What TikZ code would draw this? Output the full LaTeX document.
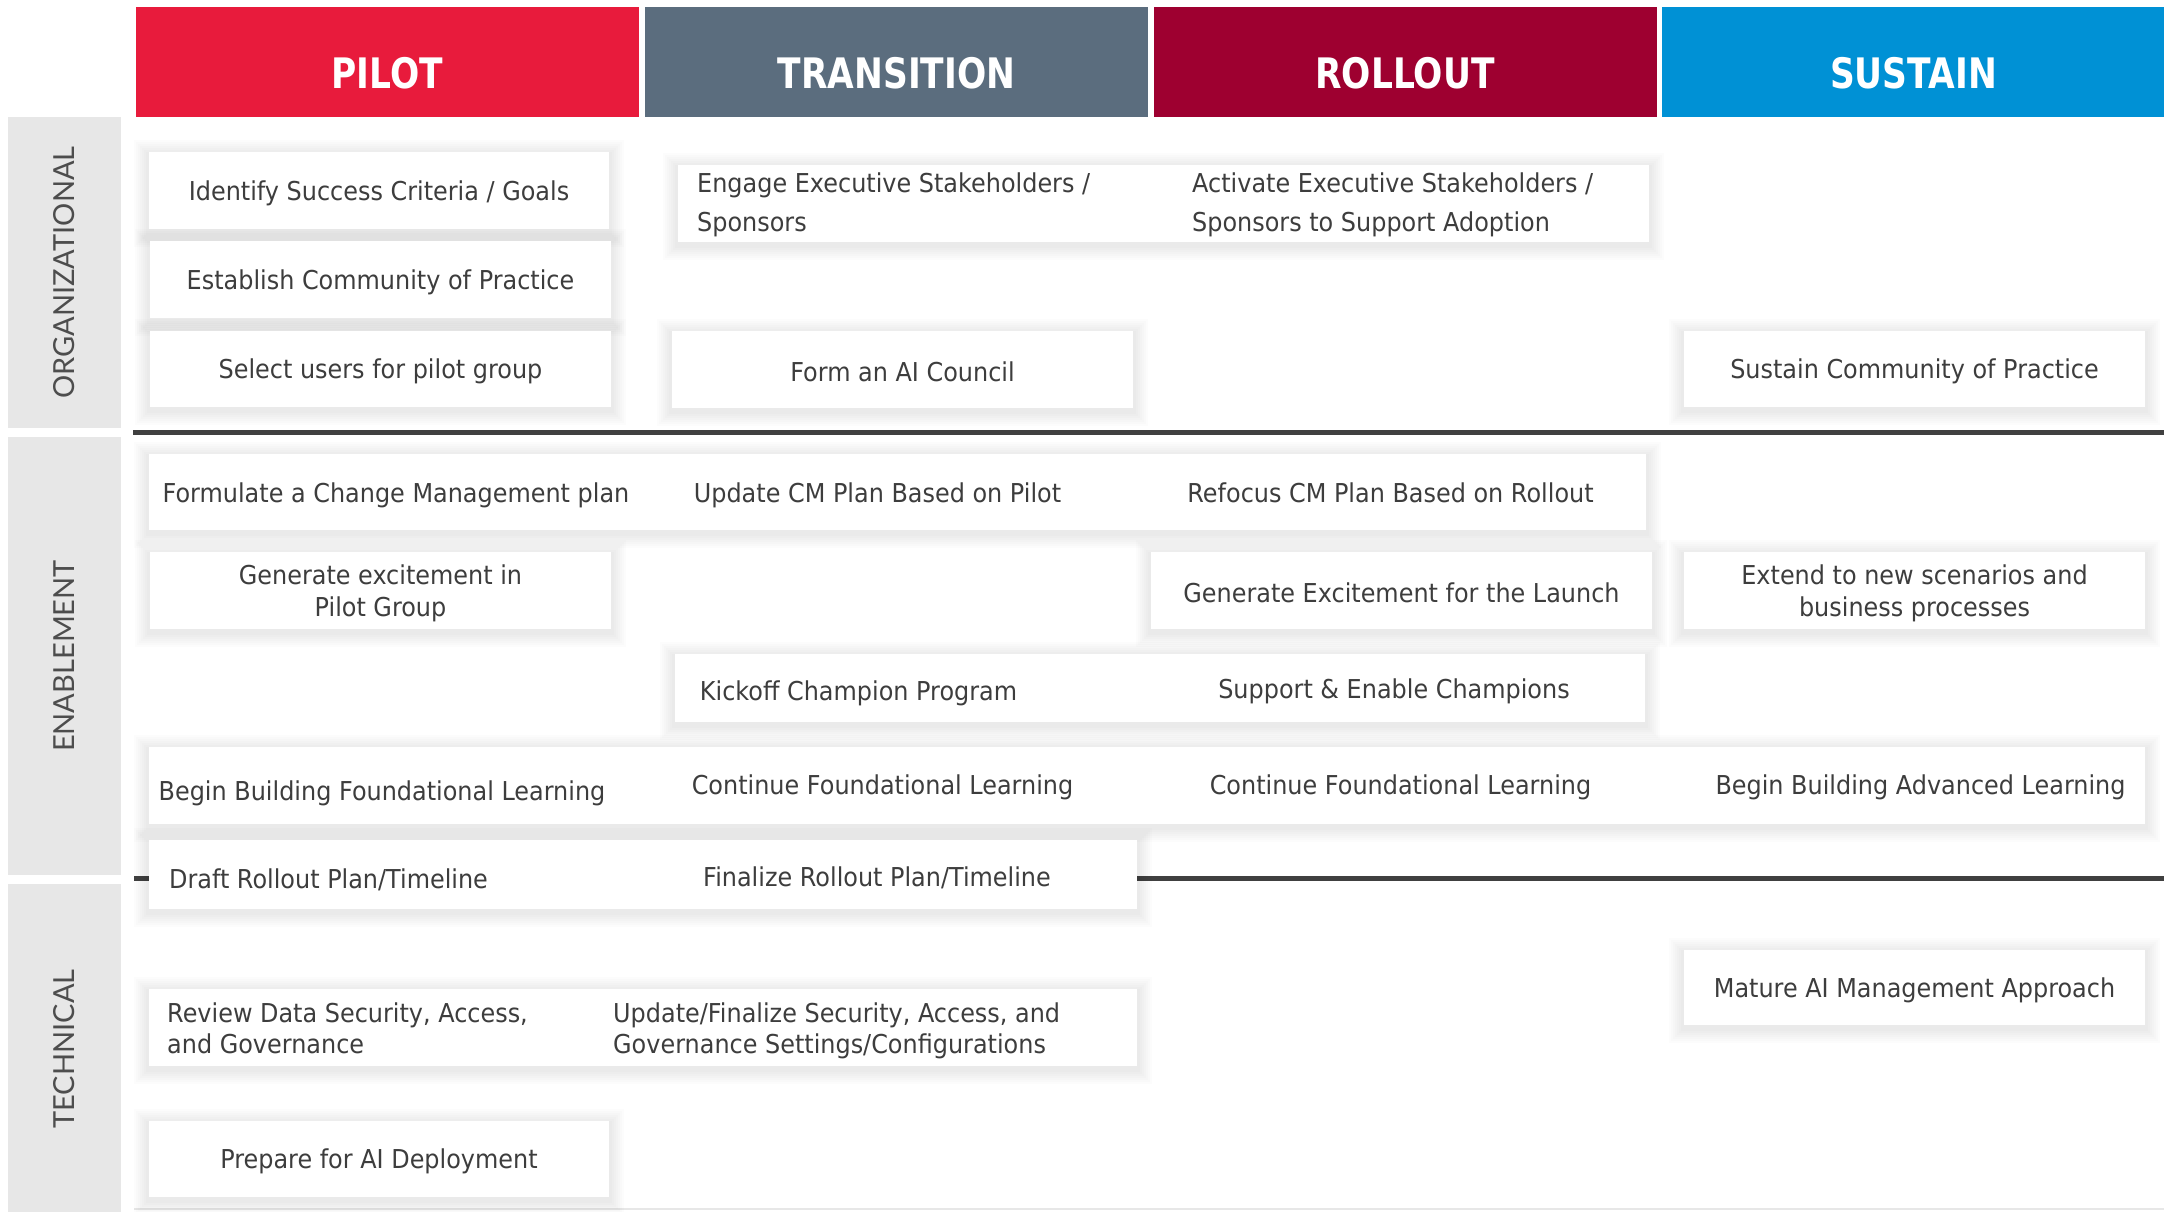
\documentclass[tikz,border=0pt]{standalone}
\usepackage{fontspec}
\usepackage{xcolor}
\usepackage{tikz}
\usetikzlibrary{positioning}

\newfontfamily\bodyfont[FakeStretch=0.92]{DejaVu Sans}
\newfontfamily\phasefont[FakeStretch=0.82]{DejaVu Sans}
\newfontfamily\lanefont{Lato}

\definecolor{pilotred}{HTML}{E81B3C}
\definecolor{transgrey}{HTML}{5B6D7E}
\definecolor{rolloutred}{HTML}{9E0030}
\definecolor{sustainblue}{HTML}{0091D5}
\definecolor{lanegrey}{HTML}{E7E7E7}
\definecolor{lanetext}{HTML}{4D4D4D}
\definecolor{rulegrey}{HTML}{404040}
\definecolor{ink}{HTML}{3D3D3D}

\begin{document}
\begin{tikzpicture}[x=1pt, y=-1pt,
	phase/.style={fill=#1, text=white, minimum width=503, minimum height=110, inner sep=0pt,
		text height=52pt, text depth=0pt, font=\phasefont\bfseries\fontsize{42}{42}\selectfont},
	lane/.style={fill=lanegrey, rotate=90, minimum height=113, inner sep=0pt, text=lanetext,
		font=\lanefont\fontsize{29}{29}\selectfont},
	halo/.style={preaction={draw=black, draw opacity=0.013, line width=#1, line join=miter,
		transform canvas={yshift=-3pt}}},
	task/.style={halo=30pt, halo=26pt, halo=22pt, halo=18pt, halo=14pt, halo=10pt, halo=6pt,
		fill=white, inner sep=0pt},
	txt/.style={text=ink, inner sep=0pt, align=center, yshift=-2.5pt,
		font=\bodyfont\fontsize{26}{32}\selectfont},
	rule/.style={draw=rulegrey, line width=5pt}
	]
	\fill[white] (0,0) rectangle (2164,1211);
	\useasboundingbox (0,0) rectangle (2164,1211);

	% phases
	\node[phase=pilotred] (pilot) at (387,62) {PILOT};
	\node[phase=transgrey] (transition) at (896.5,62) {TRANSITION};
	\node[phase=rolloutred] (rollout) at (1405,62) {ROLLOUT};
	\node[phase=sustainblue] (sustain) at (1913.5,62) {SUSTAIN};

	% lanes
	\node[lane, minimum width=311] (org) at (64.5,272.5) {ORGANIZATIONAL};
	\node[lane, minimum width=438] (enab) at (64.5,656) {ENABLEMENT};
	\node[lane, minimum width=330] (tech) at (64.5,1049) {TECHNICAL};

	% lane separators
	\coordinate (sepA) at (133,432);
	\coordinate (sepB) at (134,878);
	\draw[rule] (sepA) -- (sepA -| sustain.east);
	\draw[rule] (sepB) -- (sepB -| sustain.east);
	\draw[draw=lanegrey, line width=2pt] (134,1209) -- (2164,1209);

	% organizational
	\node[task, minimum width=460, minimum height=77] (goals) at (379,190.5) {};
	\node[txt] (goalsT) at (goals) {Identify Success Criteria / Goals};
	\node[task, minimum width=461, minimum height=77] (cop) at (380.5,279.5) {};
	\node[txt] (copT) at (cop) {Establish Community of Practice};
	\node[task, minimum width=461, minimum height=76] (users) at (380.5,369) {};
	\node[txt] (usersT) at (users) {Select users for pilot group};
	\node[task, minimum width=971, minimum height=77] (sponsors) at (1163.5,203.5) {};
	\node[txt, anchor=west, align=left, yshift=1.5pt, font=\bodyfont\fontsize{26}{39}\selectfont] (engage) at (697,203.5)
		{Engage Executive Stakeholders /\\Sponsors};
	\node[txt, anchor=west, align=left, yshift=1.5pt, font=\bodyfont\fontsize{26}{39}\selectfont] (activate) at (1192,203.5)
		{Activate Executive Stakeholders /\\Sponsors to Support Adoption};
	\node[task, minimum width=461, minimum height=77] (council) at (902.5,369.5) {};
	\node[txt] (councilT) at (council) {Form an AI Council};
	\node[task, minimum width=461, minimum height=76] (sustcop) at (1914.5,369) {};
	\node[txt] (sustcopT) at (sustcop) {Sustain Community of Practice};

	% enablement
	\node[task, minimum width=1497, minimum height=76] (cm) at (897.5,492) {};
	\node[txt] (cmA) at (396,493) {Formulate a Change Management plan};
	\node[txt] (cmB) at (877.5,493) {Update CM Plan Based on Pilot};
	\node[txt] (cmC) at (1390.5,490.5) {Refocus CM Plan Based on Rollout};
	\node[task, minimum width=461, minimum height=77] (excite) at (380.5,590.5) {};
	\node[txt] (exciteT) at (excite) {Generate excitement in\\Pilot Group};
	\node[task, minimum width=501, minimum height=77] (launch) at (1401.5,590.5) {};
	\node[txt] (launchT) at (launch) {Generate Excitement for the Launch};
	\node[task, minimum width=461, minimum height=77] (extend) at (1914.5,590.5) {};
	\node[txt] (extendT) at (extend) {Extend to new scenarios and\\business processes};
	\node[task, minimum width=970, minimum height=68] (champ) at (1160,688) {};
	\node[txt] (champA) at (858.5,691) {Kickoff Champion Program};
	\node[txt] (champB) at (1394,689) {Support \& Enable Champions};
	\node[task, minimum width=1996, minimum height=77] (learn) at (1147,785.5) {};
	\node[txt] (learnA) at (382,791) {Begin Building Foundational Learning};
	\node[txt] (learnB) at (882.5,785) {Continue Foundational Learning};
	\node[txt] (learnC) at (1400.5,785) {Continue Foundational Learning};
	\node[txt] (learnD) at (1920.5,785) {Begin Building Advanced Learning};
	\node[task, minimum width=988, minimum height=69] (plan) at (643,874.5) {};
	\node[txt] (planA) at (328.5,877) {Draft Rollout Plan/Timeline};
	\node[txt] (planB) at (877,875) {Finalize Rollout Plan/Timeline};

	% technical
	\node[task, minimum width=988, minimum height=77] (secur) at (643,1027.5) {};
	\node[txt, anchor=west, align=left, yshift=2pt, font=\bodyfont\fontsize{26}{31}\selectfont] (securA) at (167,1027.5)
		{Review Data Security, Access,\\and Governance};
	\node[txt, anchor=west, align=left, yshift=-0.5pt, font=\bodyfont\fontsize{26}{31}\selectfont] (securB) at (613,1027.5)
		{Update/Finalize Security, Access, and\\Governance Settings/Configurations};
	\node[task, minimum width=460, minimum height=76] (deploy) at (379,1159) {};
	\node[txt] (deployT) at (deploy) {Prepare for AI Deployment};
	\node[task, minimum width=461, minimum height=75] (mature) at (1914.5,987.5) {};
	\node[txt] (matureT) at (mature) {Mature AI Management Approach};
\end{tikzpicture}
\end{document}
